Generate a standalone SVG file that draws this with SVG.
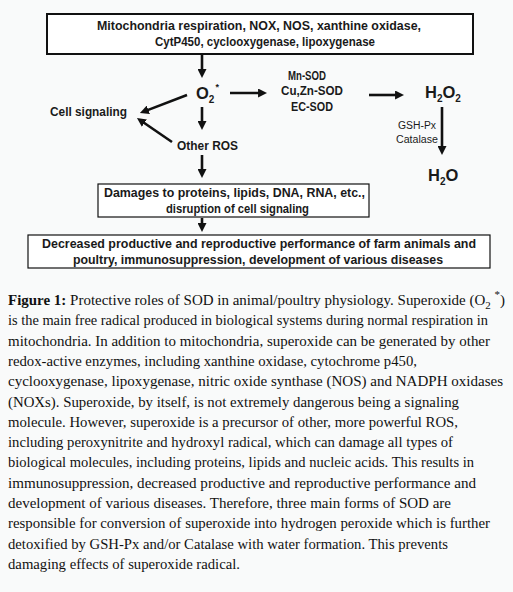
<svg xmlns="http://www.w3.org/2000/svg" width="513" height="592" viewBox="0 0 513 592">
<defs>
<marker id="ah" viewBox="0 0 10 10" refX="5.5" refY="5" markerWidth="9" markerHeight="9" markerUnits="userSpaceOnUse" orient="auto">
<path d="M0,0 L10,5 L0,10 z" fill="#111"/>
</marker>
<style>
.d{font-family:"Liberation Sans",Arial,sans-serif;font-weight:bold;fill:#1a1a1a;}
.s12{font-size:12.5px;}
.s10{font-size:10px;font-weight:normal;}
.big{font-size:16.5px;}
.box{fill:#fff;stroke:#111;}
.arr{stroke:#111;stroke-width:2.6;fill:none;marker-end:url(#ah);}
.cap{font-family:"Liberation Serif","Times New Roman",serif;font-size:15px;fill:#111;}
</style>
</defs>
<rect x="0" y="0" width="513" height="592" fill="#f9fafa"/>

<g id="connectors">
<line class="arr" x1="202" y1="55" x2="202" y2="74"/>
<line class="arr" x1="230" y1="93" x2="263" y2="93"/>
<line class="arr" x1="369" y1="95" x2="400" y2="95"/>
<line class="arr" x1="442" y1="107" x2="442" y2="151"/>
<line class="arr" x1="187" y1="95" x2="143.7" y2="111.6"/>
<line class="arr" x1="172" y1="142" x2="140.3" y2="120.3"/>
<line class="arr" x1="202" y1="107" x2="202" y2="126"/>
<line class="arr" x1="202" y1="155" x2="202" y2="174"/>
<line class="arr" x1="202" y1="218" x2="202" y2="228"/>
</g>

<g id="sources">
<rect class="box" x="47" y="14" width="426" height="40" stroke-width="2"/>
<text class="d s12" x="97" y="30" textLength="324" lengthAdjust="spacingAndGlyphs">Mitochondria respiration, NOX, NOS, xanthine oxidase,</text>
<text class="d s12" x="155" y="46" textLength="220" lengthAdjust="spacingAndGlyphs">CytP450, cyclooxygenase, lipoxygenase</text>
</g>

<g id="superoxide">
<text class="d big" x="196" y="99">O<tspan font-size="10" dy="4">2</tspan><tspan font-size="9" dx="1" dy="-13">*</tspan></text>
</g>

<g id="sod">
<text class="d s12" x="307" y="80" text-anchor="middle" textLength="38" lengthAdjust="spacingAndGlyphs">Mn-SOD</text>
<text class="d s12" x="312" y="95" text-anchor="middle" textLength="62" lengthAdjust="spacingAndGlyphs">Cu,Zn-SOD</text>
<text class="d s12" x="312" y="111" text-anchor="middle" textLength="42" lengthAdjust="spacingAndGlyphs">EC-SOD</text>
</g>

<g id="h2o2">
<text class="d big" x="425" y="98">H<tspan font-size="10" dy="4">2</tspan><tspan dy="-4">O</tspan><tspan font-size="10" dy="4">2</tspan></text>
</g>

<g id="enzymes">
<text class="d s10" x="436" y="129" text-anchor="end" textLength="38" lengthAdjust="spacingAndGlyphs">GSH-Px</text>
<text class="d s10" x="438" y="143" text-anchor="end" textLength="42" lengthAdjust="spacingAndGlyphs">Catalase</text>
</g>

<g id="h2o">
<text class="d big" x="428" y="181">H<tspan font-size="10" dy="4">2</tspan><tspan dy="-4">O</tspan></text>
</g>

<g id="cell-signaling">
<text class="d s12" x="50" y="116" textLength="77" lengthAdjust="spacingAndGlyphs">Cell signaling</text>
</g>

<g id="other-ros">
<text class="d s12" x="177" y="150" textLength="61" lengthAdjust="spacingAndGlyphs">Other ROS</text>
</g>

<g id="damages">
<rect class="box" x="98" y="184" width="271" height="33" stroke-width="1.2"/>
<text class="d s12" x="104" y="197" textLength="261" lengthAdjust="spacingAndGlyphs">Damages to proteins, lipids, DNA, RNA, etc.,</text>
<text class="d s12" x="166" y="213" textLength="143" lengthAdjust="spacingAndGlyphs">disruption of cell signaling</text>
</g>

<g id="outcome">
<rect class="box" x="28" y="235" width="462" height="33" stroke-width="1.2"/>
<text class="d s12" x="42" y="248" textLength="434" lengthAdjust="spacingAndGlyphs">Decreased productive and reproductive performance of farm animals and</text>
<text class="d s12" x="73" y="264" textLength="370" lengthAdjust="spacingAndGlyphs">poultry, immunosuppression, development of various diseases</text>
</g>

<g id="caption" class="cap">
<text x="8" y="305" textLength="497" lengthAdjust="spacingAndGlyphs"><tspan font-weight="bold">Figure 1:</tspan> Protective roles of SOD in animal/poultry physiology. Superoxide (O<tspan font-size="11" dy="4">2</tspan><tspan dy="-4"> </tspan><tspan font-size="11" dy="-7">*</tspan><tspan dy="7">)</tspan></text>
<text x="8" y="325.3" textLength="480" lengthAdjust="spacingAndGlyphs">is the main free radical produced in biological systems during normal respiration in</text>
<text x="8" y="345.6" textLength="482" lengthAdjust="spacingAndGlyphs">mitochondria. In addition to mitochondria, superoxide can be generated by other</text>
<text x="8" y="365.9" textLength="409" lengthAdjust="spacingAndGlyphs">redox-active enzymes, including xanthine oxidase, cytochrome p450,</text>
<text x="8" y="386.2" textLength="495" lengthAdjust="spacingAndGlyphs">cyclooxygenase, lipoxygenase, nitric oxide synthase (NOS) and NADPH oxidases</text>
<text x="8" y="406.5" textLength="451" lengthAdjust="spacingAndGlyphs">(NOXs). Superoxide, by itself, is not extremely dangerous being a signaling</text>
<text x="8" y="426.8" textLength="450" lengthAdjust="spacingAndGlyphs">molecule. However, superoxide is a precursor of other, more powerful ROS,</text>
<text x="8" y="447.1" textLength="445" lengthAdjust="spacingAndGlyphs">including peroxynitrite and hydroxyl radical, which can damage all types of</text>
<text x="8" y="467.4" textLength="466" lengthAdjust="spacingAndGlyphs">biological molecules, including proteins, lipids and nucleic acids. This results in</text>
<text x="8" y="487.7" textLength="468" lengthAdjust="spacingAndGlyphs">immunosuppression, decreased productive and reproductive performance and</text>
<text x="8" y="508" textLength="443" lengthAdjust="spacingAndGlyphs">development of various diseases. Therefore, three main forms of SOD are</text>
<text x="8" y="528.3" textLength="482" lengthAdjust="spacingAndGlyphs">responsible for conversion of superoxide into hydrogen peroxide which is further</text>
<text x="8" y="548.6" textLength="440" lengthAdjust="spacingAndGlyphs">detoxified by GSH-Px and/or Catalase with water formation. This prevents</text>
<text x="8" y="568.9" textLength="232" lengthAdjust="spacingAndGlyphs">damaging effects of superoxide radical.</text>
</g>
</svg>
